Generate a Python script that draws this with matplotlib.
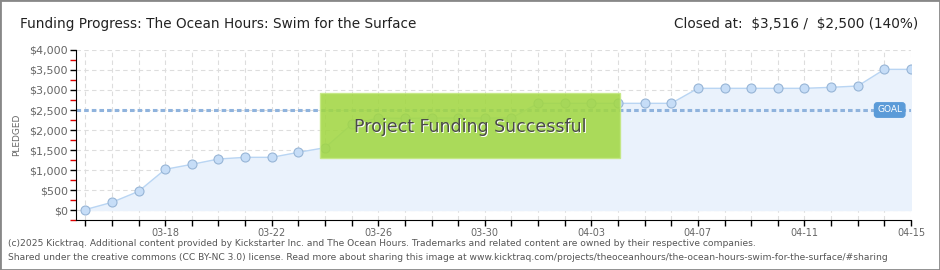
import matplotlib.pyplot as plt
import matplotlib.patches as patches
from matplotlib.ticker import MultipleLocator, FuncFormatter
import numpy as np

# data (cumulative pledged, USD)
dates = ['03-15', '03-16', '03-17', '03-18', '03-19', '03-20', '03-21', '03-22',
         '03-23', '03-24', '03-25', '03-26', '03-27', '03-28', '03-29', '03-30',
         '03-31', '04-01', '04-02', '04-03', '04-04', '04-05', '04-06', '04-07',
         '04-08', '04-09', '04-10', '04-11', '04-12', '04-13', '04-14', '04-15']
pledged = [10, 192, 467, 1017, 1142, 1275, 1317, 1317,
           1442, 1558, 2142, 2300, 2290, 2300, 2300, 2300,
           2300, 2667, 2667, 2667, 2667, 2667, 2667, 3042,
           3042, 3042, 3042, 3042, 3067, 3100, 3516, 3516]
goal = 2500
label_every = 4
label_start = 3  # 03-18

plt.rcParams['font.family'] = ['DejaVu Sans']

fig = plt.figure(figsize=(9.4, 2.7), dpi=100)
ax = fig.add_axes([76 / 940, 50 / 270, 835 / 940, 170 / 270])

x = np.arange(len(dates))
ax.fill_between(x, pledged, 0, color='#eaf2fc', zorder=1)
ax.plot(x, pledged, color='#b9d5f3', linewidth=1, zorder=3)
ax.scatter(x, pledged, s=42, color='#c6ddf7', edgecolors='#97b5d6', linewidths=0.8, zorder=4)

# goal line
ax.axhline(goal, color='#8fb3dd', linestyle=(0, (1.5, 1)), linewidth=2.2, zorder=2)
ax.text(len(dates) - 1.8, goal, 'GOAL', color='white', fontsize=6.5, ha='center', va='center',
        zorder=6, bbox=dict(boxstyle='round,pad=0.3', fc='#5b9bd8', ec='#5b9bd8'))

ax.set_xlim(-0.35, len(dates) - 1)
ax.set_ylim(-250, 4000)

# grid
for i in x:
    ax.axvline(i, color='#dddddd', linestyle=(0, (4, 3)), linewidth=0.8, zorder=0)
for v in range(0, 4001, 500):
    ax.axhline(v, color='#dddddd', linestyle=(0, (4, 3)), linewidth=0.8, zorder=0)

ax.spines['top'].set_visible(False)
ax.spines['right'].set_visible(False)
ax.spines['left'].set_bounds(-250, 4000)

ax.yaxis.set_major_locator(MultipleLocator(500))
ax.yaxis.set_minor_locator(MultipleLocator(250))
ax.yaxis.set_major_formatter(FuncFormatter(lambda v, p: '${:,.0f}'.format(v)))
ax.tick_params(axis='y', which='major', length=4, width=1, color='black',
               labelsize=8, labelcolor='#666666', pad=2)
ax.tick_params(axis='y', which='minor', length=4, width=1, color='#dd0000')

ax.set_xticks(x[label_start::label_every])
ax.set_xticklabels(dates[label_start::label_every])
ax.set_xticks(x, minor=True)
ax.tick_params(axis='x', which='both', length=4, width=1, color='black', direction='out')
ax.tick_params(axis='x', labelsize=7, labelcolor='#666666', pad=2)

ax.set_ylabel('PLEDGED', fontsize=6.5, color='#666666', labelpad=6)

# success banner (semi-transparent so the points show through)
box = patches.Rectangle((320 / 940, 1 - 158 / 270), 300 / 940, 65 / 270,
                        transform=fig.transFigure, facecolor='#a2d743', edgecolor='#c4e882',
                        linewidth=1, alpha=0.88, zorder=10)
fig.patches.append(box)
fig.text(470 / 940 + 0.001, 1 - 127 / 270 - 0.004, 'Project Funding Successful', fontsize=12.5,
         color='white', ha='center', va='center', zorder=11)
fig.text(470 / 940, 1 - 127 / 270, 'Project Funding Successful', fontsize=12.5,
         color='#4a4a4a', ha='center', va='center', zorder=12)

# header
fig.text(20 / 940, 1 - 24 / 270, 'Funding Progress: The Ocean Hours: Swim for the Surface',
         fontsize=9.8, color='#222222', va='center')
fig.text(918 / 940, 1 - 24 / 270, r'Closed at:  \$3,516 /  \$2,500 (140%)',
         fontsize=9.8, color='#222222', va='center', ha='right')

# footer
fig.text(8 / 940, 1 - 243 / 270,
         '(c)2025 Kicktraq. Additional content provided by Kickstarter Inc. and The Ocean Hours. '
         'Trademarks and related content are owned by their respective companies.',
         fontsize=6.6, color='#555555', va='center')
fig.text(8 / 940, 1 - 257 / 270,
         'Shared under the creative commons (CC BY-NC 3.0) license. Read more about sharing this image at '
         'www.kicktraq.com/projects/theoceanhours/the-ocean-hours-swim-for-the-surface/#sharing',
         fontsize=6.6, color='#555555', va='center')

# outer border
border = patches.Rectangle((0, 0), 1, 1, transform=fig.transFigure, fill=False,
                           edgecolor='#888888', linewidth=2)
fig.patches.append(border)

fig.savefig('out.png', dpi=100)
